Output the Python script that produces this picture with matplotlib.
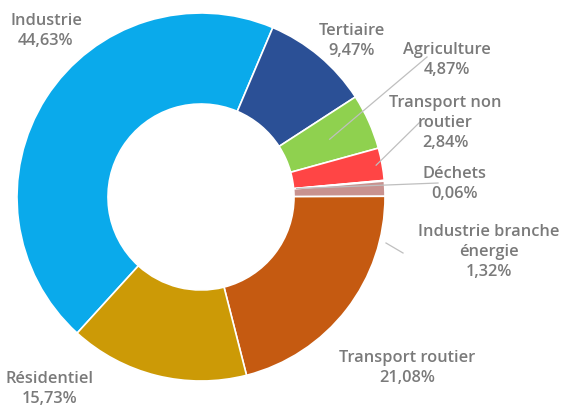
import numpy as np
import matplotlib
matplotlib.use("Agg")
import matplotlib.pyplot as plt

# Répartition des émissions par secteur (%)
secteurs = ["Industrie", "Tertiaire", "Agriculture", "Transport non\nroutier",
            "Déchets", "Industrie branche\nénergie", "Transport routier", "Résidentiel"]
parts = [44.63, 9.47, 4.87, 2.84, 0.06, 1.32, 21.08, 15.73]
couleurs = ["#0AAAEB", "#2B5096", "#8FD14F", "#FF4545",
            "#F4B59A", "#C8928F", "#C55A11", "#CC9A06"]

W, H = 561, 408
fig = plt.figure(figsize=(W / 100, H / 100), dpi=100)
ax = fig.add_axes([0, 0, 1, 1])

cx, cy = 201, H - 197
R, r_in = 184, 93
start = -132.3

wedges, _ = ax.pie(parts, colors=couleurs, startangle=start, counterclock=False,
                   radius=R, center=(cx, cy), frame=True,
                   wedgeprops=dict(width=R - r_in, edgecolor="white", linewidth=1.2))
ax.set_xlim(0, W)
ax.set_ylim(0, H)
ax.set_aspect("equal")
ax.axis("off")

def fmt(v):
    return f"{v:.2f}%".replace(".", ",")

# positions des étiquettes (pixels depuis le haut)
pos_labels = [(46, 31), (352, 41), (447, 60), (445, 123),
              (455, 184), (489, 252), (407, 368), (50, 389)]

gris = "#7A7A7A"
for nom, v, (x, y) in zip(secteurs, parts, pos_labels):
    ax.text(x, H - y, f"{nom}\n{fmt(v)}", ha="center", va="center",
            fontsize=11.8, color=gris, family="Open Sans", fontweight="semibold",
            linespacing=1.3)

def point(idx, rad):
    w = wedges[idx]
    mid = np.deg2rad((w.theta1 + w.theta2) / 2)
    return cx + rad * np.cos(mid), cy + rad * np.sin(mid)

# traits de rappel
rappels = [(2, (427, 57), 141), (3, (420, 122), 178), (4, (438, 183), 96)]
for idx, (sx, sy), rad in rappels:
    ex, ey = point(idx, rad)
    ax.plot([sx, ex], [H - sy, ey], color="#BFBFBF", lw=0.9)
ax.plot([403, 386], [H - 253, H - 243], color="#BFBFBF", lw=0.9)

fig.savefig("out.png", dpi=100)
